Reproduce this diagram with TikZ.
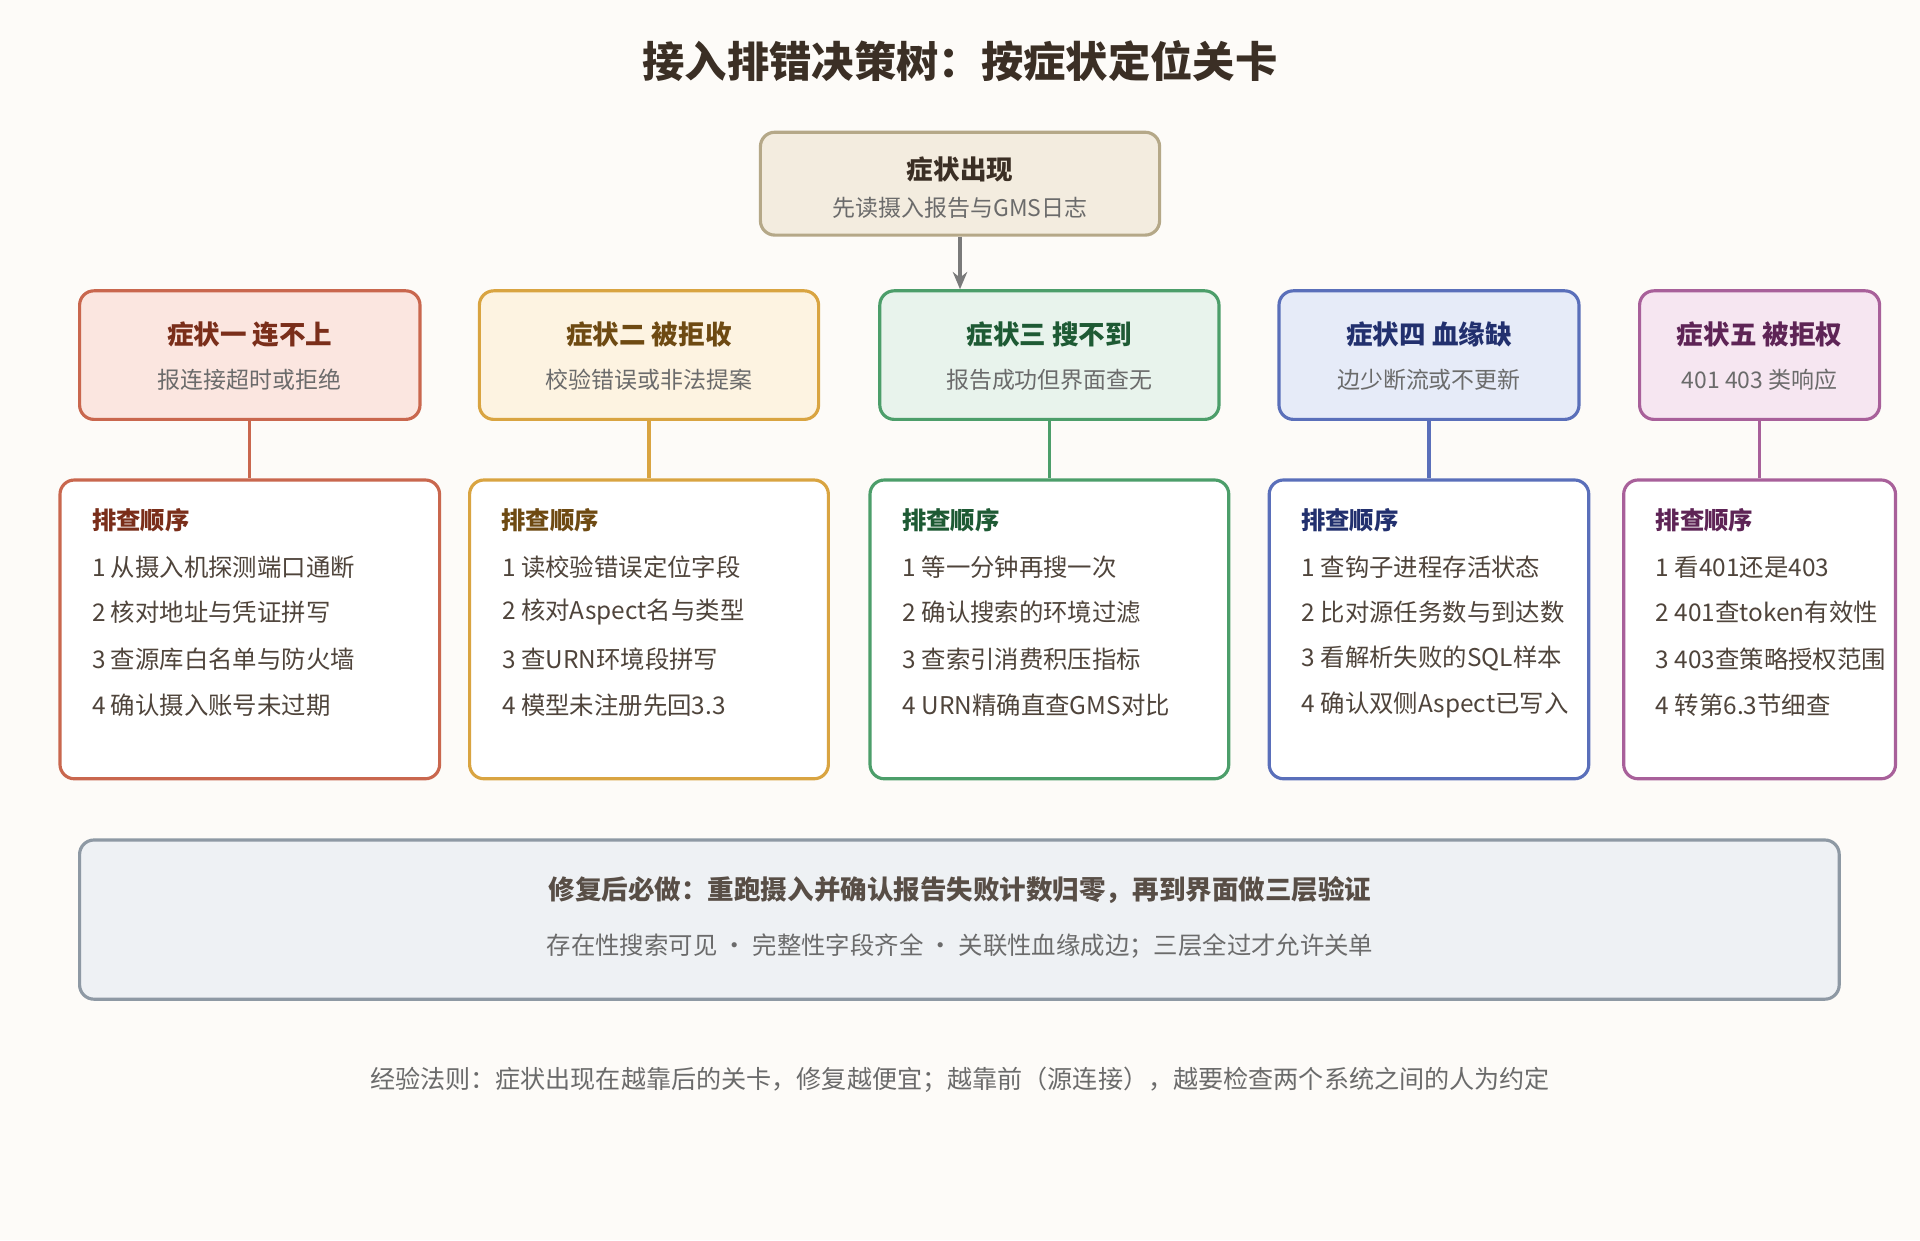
\documentclass[tikz,border=0pt]{standalone}
\usepackage{fontspec}
\setmainfont{Noto Sans CJK SC}
\usepackage{xcolor}
\usetikzlibrary{positioning,arrows.meta}
\tikzset{>=stealth}
\definecolor{bgc}{HTML}{FDFBF8}
\definecolor{ink}{HTML}{3B2F25}
\definecolor{gray}{HTML}{6B6B6B}
\definecolor{topf}{HTML}{F3ECDF}\definecolor{topd}{HTML}{B5A888}
\definecolor{af}{HTML}{FBE6E0}\definecolor{ad}{HTML}{C9674E}\definecolor{at}{HTML}{7A2E1A}
\definecolor{bf}{HTML}{FDF3E1}\definecolor{bd}{HTML}{D9A441}\definecolor{bt}{HTML}{6E4A12}
\definecolor{cf}{HTML}{E8F3EC}\definecolor{cd}{HTML}{4C9E6A}\definecolor{ct}{HTML}{1E5A34}
\definecolor{df}{HTML}{E6EBF8}\definecolor{dd}{HTML}{5A6FBA}\definecolor{dt}{HTML}{22306E}
\definecolor{ef}{HTML}{F6E6F1}\definecolor{ed}{HTML}{A8609A}\definecolor{et}{HTML}{5E2456}
\definecolor{fixf}{HTML}{EEF1F4}\definecolor{fixd}{HTML}{8E99A4}
\tikzset{
  box/.style={draw, line width=2.2pt, rounded corners=10pt, inner sep=0pt},
  head/.style={font=\fontsize{18.5}{22}\selectfont\bfseries},
  sub/.style={font=\fontsize{16}{19}\selectfont, text=gray},
  item/.style={font=\fontsize{17}{20}\selectfont, text=ink!90, anchor=west},
  link/.style={line width=2.2pt}
}
\begin{document}
\begin{tikzpicture}[x=0.03cm,y=-0.03cm]
  \fill[bgc] (0,0) rectangle (1568,1013);
  \useasboundingbox (0,0) rectangle (1568,1013);

  \node[font=\fontsize{29.5}{34}\selectfont\bfseries, text=ink] (title) at (784,50) {接入排错决策树：按症状定位关卡};

  % top node
  \node[box, fill=topf, draw=topd, minimum width=326*0.03cm, minimum height=84*0.03cm] (start) at (784,150) {};
  \node[head, text=ink] at (784,138) {症状出现};
  \node[sub] at (784,170) {先读摄入报告与GMS日志};

  % symptoms: x, width, detail x, detail width, fill, draw, text, title, subtitle
  \foreach \n/\x/\w/\dx/\dw/\f/\d/\t/\ti/\su in {
      1/204/278/204/310/af/ad/at/症状一 连不上/报连接超时或拒绝,
      2/530/277/530/293/bf/bd/bt/症状二 被拒收/校验错误或非法提案,
      3/857/277/857/293/cf/cd/ct/症状三 搜不到/报告成功但界面查无,
      4/1167/245/1167/261/df/dd/dt/症状四 血缘缺/边少断流或不更新,
      5/1437/196/1437/222/ef/ed/et/症状五 被拒权/401 403 类响应}{
    \node[box, fill=\f, draw=\d, minimum width=\w*0.03cm, minimum height=105*0.03cm] (s\n) at (\x,290) {};
    \node[head, text=\t] at (\x,273) {\ti};
    \node[sub] at (\x,310) {\su};
    \node[box, fill=white, draw=\d, minimum width=\dw*0.03cm, minimum height=244*0.03cm] (c\n) at (\dx,514) {};
    \draw[link, draw=\d] (s\n.south) -- (c\n.north);
    \node[item, font=\fontsize{17}{20}\selectfont\bfseries, text=\t] at (\dx-\dw/2+22,425) {排查顺序};
  }
  \draw[-{Stealth[length=12pt,width=10pt]}, line width=2.2pt, draw=gray!90] (start.south) -- (s3.north -| start.south);

  % check steps
  \foreach \n/\lx/\a/\b/\c/\e in {
      1/71/从摄入机探测端口通断/核对地址与凭证拼写/查源库白名单与防火墙/确认摄入账号未过期,
      2/406/读校验错误定位字段/核对Aspect名与类型/查URN环境段拼写/模型未注册先回3.3,
      3/733/等一分钟再搜一次/确认搜索的环境过滤/查索引消费积压指标/URN精确直查GMS对比,
      4/1059/查钩子进程存活状态/比对源任务数与到达数/看解析失败的SQL样本/确认双侧Aspect已写入,
      5/1348/看401还是403/401查token有效性/403查策略授权范围/转第6.3节细查}{
    \node[item] at (\lx,463) {1 \a};
    \node[item] at (\lx,500) {2 \b};
    \node[item] at (\lx,538) {3 \c};
    \node[item] at (\lx,576) {4 \e};
  }

  % after fix
  \node[box, fill=fixf, draw=fixd, minimum width=1437*0.03cm, minimum height=130*0.03cm] (fix) at (783.5,751) {};
  \node[head, text=ink!85] at (784,727) {修复后必做：重跑摄入并确认报告失败计数归零，再到界面做三层验证};
  \node[sub, font=\fontsize{17}{20}\selectfont] at (784,773) {存在性搜索可见 · 完整性字段齐全 · 关联性血缘成边；三层全过才允许关单};

  \node[sub, font=\fontsize{17.5}{20}\selectfont] (rule) at (784,882) {经验法则：症状出现在越靠后的关卡，修复越便宜；越靠前（源连接），越要检查两个系统之间的人为约定};
\end{tikzpicture}
\end{document}
